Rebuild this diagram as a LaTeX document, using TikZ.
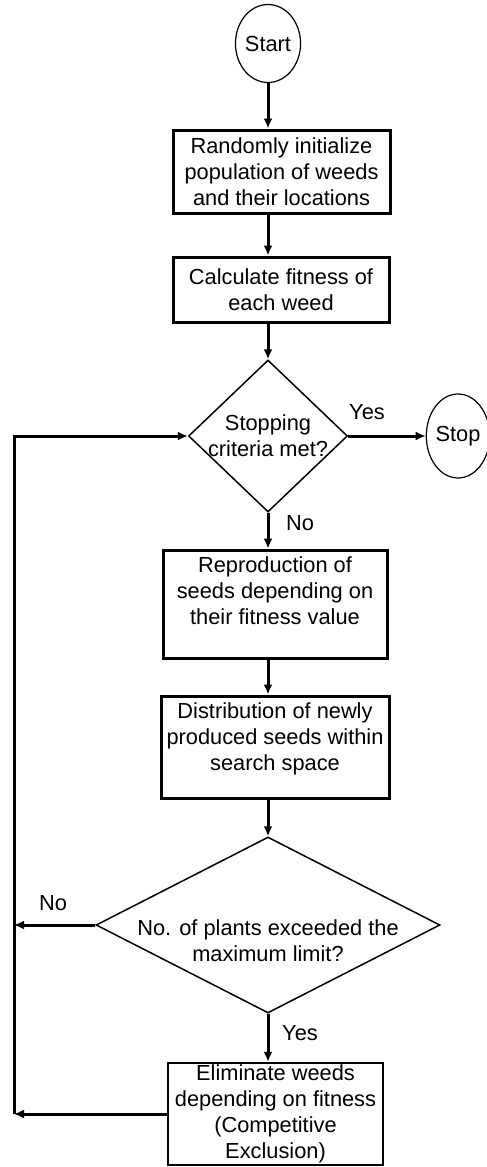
\documentclass[tikz,border=0pt]{standalone}
\usepackage{fontspec}
\setmainfont{Liberation Sans}
\usetikzlibrary{shapes.geometric,arrows.meta}
\begin{document}
\begin{tikzpicture}[x=1pt,y=-1pt,>={Latex[length=10pt,width=9pt]}, font=\fontsize{21.8}{26}\selectfont,
		box/.style={draw,line width=3pt,align=center,inner sep=0pt},
		term/.style={draw,ellipse,line width=1.2pt,minimum width=60pt,minimum height=78pt,inner sep=0pt},
		decide/.style={draw,diamond,line width=1.5pt,align=center,inner sep=-10pt},
		flow/.style={->,line width=3pt}]
		\useasboundingbox (0,0) rectangle (487,1167);
		\def\cx{268} \def\lx{14} % truc giua, nhanh trai
		\node[term] (start) at (\cx,43.5) {Start};
		\node[box,minimum width=217pt,minimum height=83pt] (init) at (281.5,171.5) {Randomly initialize\\population of weeds\\and their locations};
		\node[box,minimum width=216pt,minimum height=65pt] (fit) at (281,289.5) {Calculate fitness of\\each weed};
		\node[decide,minimum width=159pt,minimum height=152pt] (stopq) at (\cx,436) {Stopping\\criteria met?};
		\node[term,minimum height=84pt] (stop) at (458,436) {Stop};
		\node[box,minimum width=224pt,minimum height=108pt] (repro) at (275,604) {Reproduction of\\seeds depending on\\their fitness value\\};
		\node[box,minimum width=228pt,minimum height=102pt] (distr) at (275,747) {Distribution of newly\\produced seeds within\\search space\\[-5pt]};
		\node[decide,aspect=2,inner sep=-30pt,minimum width=344pt,minimum height=176pt] (limq) at (\cx,925) {\mbox{}\\[22pt]No. of plants exceeded the\\maximum limit?};
		\node[box,line width=2.5pt,minimum width=215pt,minimum height=102pt] (elim) at (275.5,1114) {Eliminate weeds\\depending on fitness\\(Competitive\\Exclusion)};
		\coordinate (back) at (\lx,1114);
		\draw[flow] (start.south) -- (start.south |- init.north);
		\draw[flow] (stopq.north |- init.south) -- (stopq.north |- fit.north);
		\draw[flow] (stopq.north |- fit.south) -- (stopq.north);
		\draw[flow] (stopq.east) -- (stop.west);
		\draw[flow] (stopq.south) -- (stopq.south |- repro.north);
		\draw[flow] (stopq.south |- repro.south) -- (stopq.south |- distr.north);
		\draw[flow] (limq.north |- distr.south) -- (limq.north);
		\draw[flow] (limq.south) -- (limq.south |- elim.north);
		\draw[flow] (limq.west) -- (limq.west -| back);
		\draw[flow] (elim.west) -- (back);
		\draw[flow] (back) -- (back |- stopq.west) -- (stopq.west);
		\node (yes1) at (367,412) {Yes};
		\node (no1) at (300,523) {No};
		\node (no2) at (53,903) {No};
		\node (yes2) at (300,1033) {Yes};
	\end{tikzpicture}
\end{document}
